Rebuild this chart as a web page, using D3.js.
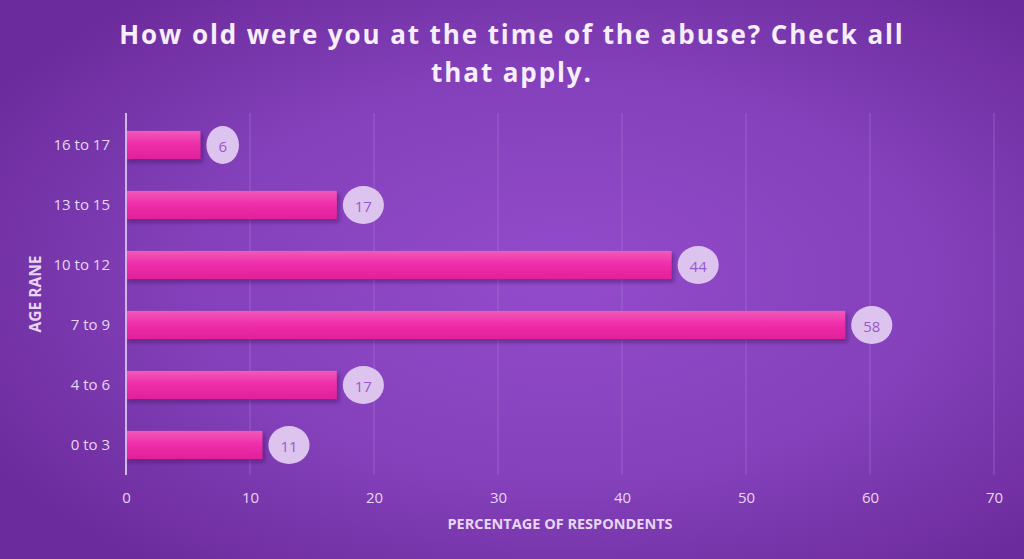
<!DOCTYPE html>
<html>
<head>
<meta charset="utf-8">
<script src="https://cdn.jsdelivr.net/npm/d3@7"></script>
<style>
  html, body { margin: 0; padding: 0; overflow: hidden; }
  svg { display: block; }
  text { font-family: "Open Sans", "Noto Sans", sans-serif; }
</style>
</head>
<body>
<div id="chart"></div>
<script>
let categories = ["16 to 17", "13 to 15", "10 to 12", "7 to 9", "4 to 6", "0 to 3"];
let values = [6, 17, 44, 58, 17, 11];
let xTicks = [0, 10, 20, 30, 40, 50, 60, 70];

let width = 1024, height = 559;
let margin = {top: 115, right: 30, bottom: 84, left: 126};

let svg = d3.select("#chart").append("svg")
    .attr("width", width)
    .attr("height", height);

let defs = svg.append("defs");

// background radial gradient
let bg = defs.append("radialGradient")
    .attr("id", "bg")
    .attr("cx", "0.55").attr("cy", "0.5").attr("r", "0.65");
bg.append("stop").attr("offset", "0%").attr("stop-color", "#934bcb");
bg.append("stop").attr("offset", "55%").attr("stop-color", "#8441bb");
bg.append("stop").attr("offset", "100%").attr("stop-color", "#6c2b9c");

// bar gradient
let barGrad = defs.append("linearGradient")
    .attr("id", "barGrad")
    .attr("x1", 0).attr("y1", 0).attr("x2", 0).attr("y2", 1);
barGrad.append("stop").attr("offset", "0%").attr("stop-color", "#f25ab8");
barGrad.append("stop").attr("offset", "45%").attr("stop-color", "#ef2fab");
barGrad.append("stop").attr("offset", "100%").attr("stop-color", "#e0209a");

let shadow = defs.append("filter").attr("id", "shadow")
    .attr("x", "-5%").attr("y", "-20%").attr("width", "115%").attr("height", "160%");
shadow.append("feDropShadow")
    .attr("dx", 2).attr("dy", 3).attr("stdDeviation", 2)
    .attr("flood-color", "#3a0a5a").attr("flood-opacity", 0.55);

svg.append("rect")
    .attr("width", width).attr("height", height)
    .attr("fill", "url(#bg)");

let x = d3.scaleLinear()
    .domain([0, 70])
    .range([margin.left, width - margin.right]);

let y = d3.scaleBand()
    .domain(categories)
    .range([margin.top, height - margin.bottom])
    .paddingInner(0.53)
    .paddingOuter(0.265);

// gridlines
svg.append("g")
    .selectAll("line")
    .data(xTicks.slice(1))
    .join("line")
    .attr("x1", d => x(d)).attr("x2", d => x(d))
    .attr("y1", margin.top - 2).attr("y2", height - margin.bottom)
    .attr("stroke", "#a774d6")
    .attr("stroke-opacity", 0.6)
    .attr("stroke-width", 1);

// x axis labels
let xAxis = svg.append("g")
    .attr("transform", `translate(0,${height - margin.bottom})`)
    .call(d3.axisBottom(x).tickValues(xTicks).tickSize(0).tickPadding(17));
xAxis.select(".domain").remove();
xAxis.selectAll("text")
    .attr("fill", "#e6d6f2")
    .style("font-size", "15px")
    .style("font-family", "'Open Sans', sans-serif");

// y axis labels
let yAxis = svg.append("g")
    .attr("transform", `translate(${margin.left},0)`)
    .call(d3.axisLeft(y).tickSize(0).tickPadding(16));
yAxis.select(".domain").remove();
yAxis.selectAll("text")
    .attr("fill", "#e6d6f2")
    .style("font-size", "15px")
    .style("font-family", "'Open Sans', sans-serif");

// bars
let bars = svg.append("g")
    .selectAll("rect")
    .data(values)
    .join("rect")
    .attr("x", x(0))
    .attr("y", (d, i) => y(categories[i]))
    .attr("width", d => x(d) - x(0))
    .attr("height", y.bandwidth())
    .attr("fill", "url(#barGrad)")
    .attr("filter", "url(#shadow)");

// axis line on top
svg.append("line")
    .attr("x1", x(0)).attr("x2", x(0))
    .attr("y1", margin.top - 2).attr("y2", height - margin.bottom)
    .attr("stroke", "#cfb6e6")
    .attr("stroke-width", 2);

// data labels in ellipses
let labels = svg.append("g")
    .selectAll("g")
    .data(values)
    .join("g");

labels.each(function(d, i) {
    let g = d3.select(this);
    let t = g.append("text")
        .text(d)
        .attr("text-anchor", "middle")
        .attr("dominant-baseline", "central")
        .attr("fill", "#9a58cc")
        .style("font-size", "15px");
    let w = t.node().getComputedTextLength();
    let rx = Math.max(15, w / 2 + 12);
    let cx = x(d) + 6 + rx;
    let cy = y(categories[i]) + y.bandwidth() / 2;
    g.insert("ellipse", "text")
        .attr("cx", cx).attr("cy", cy)
        .attr("rx", rx).attr("ry", 19)
        .attr("fill", "#dcc4ee");
    t.attr("x", cx).attr("y", cy + 1);
});

// title
let title = svg.append("text")
    .attr("text-anchor", "middle")
    .attr("fill", "#f6eefb")
    .style("font-size", "26px")
    .style("font-weight", "bold")
    .style("letter-spacing", "1.9px");
title.append("tspan").attr("x", 512).attr("y", 44)
    .text("How old were you at the time of the abuse? Check all");
title.append("tspan").attr("x", 512).attr("y", 82)
    .text("that apply.");

// axis titles
svg.append("text")
    .attr("x", 560)
    .attr("y", 529)
    .attr("text-anchor", "middle")
    .attr("fill", "#e6d6f2")
    .style("font-size", "14.5px")
    .style("font-weight", "bold")
    .text("PERCENTAGE OF RESPONDENTS");

svg.append("text")
    .attr("transform", "translate(41,294) rotate(-90)")
    .attr("text-anchor", "middle")
    .attr("fill", "#e6d6f2")
    .style("font-size", "15.5px")
    .style("font-weight", "bold")
    .text("AGE RANE");
</script>
</body>
</html>
